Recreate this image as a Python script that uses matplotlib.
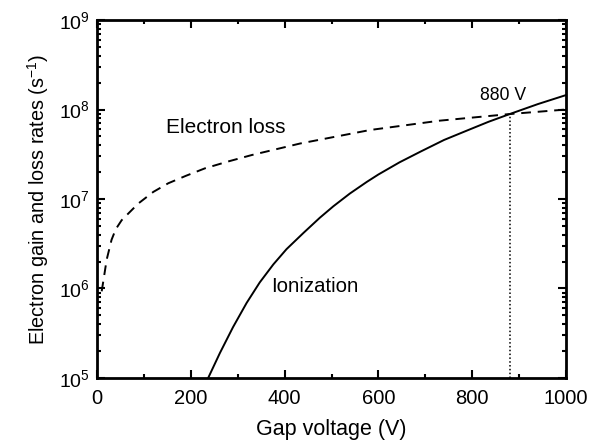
import matplotlib
matplotlib.use("Agg")
import matplotlib.pyplot as plt
from matplotlib.ticker import LogLocator, MultipleLocator, NullFormatter

plt.rcParams['font.family'] = ['Liberation Sans', 'DejaVu Sans']
plt.rcParams['mathtext.fontset'] = 'custom'
plt.rcParams['mathtext.rm'] = 'Liberation Sans'

# Ionization (solid)
ion_v = [237, 262, 290, 319, 347, 376, 404, 440, 475, 504, 539, 575, 600,
         645, 690, 740, 795, 835, 880, 940, 1000]
ion_rate = [1.0e5, 1.9e5, 3.7e5, 6.9e5, 1.17e6, 1.86e6, 2.75e6, 4.17e6,
            6.17e6, 8.3e6, 1.15e7, 1.55e7, 1.88e7, 2.57e7, 3.39e7, 4.57e7,
            6.0e7, 7.3e7, 8.9e7, 1.15e8, 1.45e8]

# Electron loss (dashed)
loss_v = [10, 14, 20.6, 31, 40, 52.6, 88, 120, 152, 190, 230, 280, 330, 433,
          582, 730, 880, 1000]
loss_rate = [9.3e5, 1.26e6, 2.1e6, 3.5e6, 4.6e6, 5.8e6, 8.9e6, 1.2e7, 1.5e7,
             1.82e7, 2.2e7, 2.63e7, 3.1e7, 4.17e7, 5.9e7, 7.5e7, 8.9e7, 1.0e8]

cross_v = 880
cross_rate = 8.9e7

xticks = [0, 200, 400, 600, 800, 1000]

fig = plt.figure(figsize=(5.89, 4.45), dpi=100)
ax = fig.add_axes([0.1647, 0.1506, 0.7963, 0.8044])

ax.plot(ion_v, ion_rate, color='black', lw=1.4)
ax.plot(loss_v, loss_rate, color='black', lw=1.4, dashes=(5, 3.5))
ax.plot([cross_v, cross_v], [1e5, cross_rate], color='black', lw=1.1,
        ls=(0, (1, 1.5)))

ax.set_yscale('log')
ax.set_xlim(0, 1000)
ax.set_ylim(1e5, 1e9)
ax.set_xticks(xticks)
ax.xaxis.set_minor_locator(MultipleLocator(100))
ax.yaxis.set_major_locator(LogLocator(base=10, numticks=10))
ax.yaxis.set_minor_locator(LogLocator(base=10, subs=range(2, 10), numticks=20))
ax.yaxis.set_minor_formatter(NullFormatter())

ax.tick_params(which='both', direction='in', top=True, right=True, width=1.5)
ax.tick_params(axis='x', which='major', labelsize=14.5, pad=8)
ax.tick_params(axis='y', which='major', labelsize=14, pad=5)
ax.tick_params(which='major', length=6)
ax.tick_params(which='minor', length=3)
for s in ax.spines.values():
    s.set_linewidth(2.0)

ax.set_xlabel('Gap voltage (V)', fontsize=15.5, labelpad=8)
ax.set_ylabel('Electron gain and loss rates (s$^{-1}$)', fontsize=14.3,
              labelpad=6)

ax.text(275, 6.3e7, 'Electron loss', fontsize=15, ha='center', va='center')
ax.text(465, 1.05e6, 'Ionization', fontsize=14.7, ha='center', va='center')
ax.text(865, 1.45e8, '880 V', fontsize=12.7, ha='center', va='center')

fig.savefig('out.png', dpi=100)
